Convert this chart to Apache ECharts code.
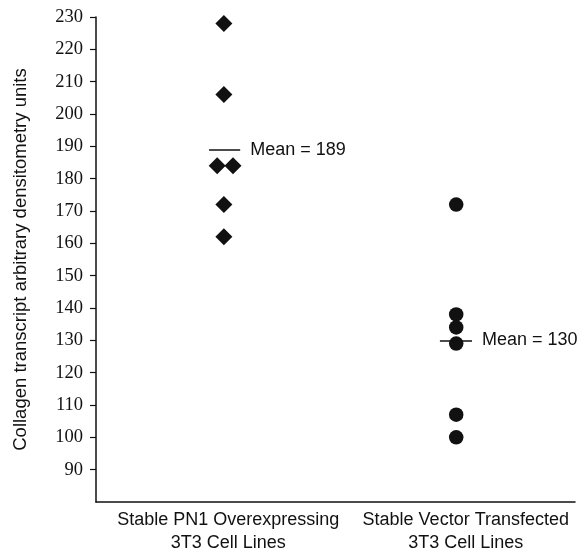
<!DOCTYPE html>
<html>
<head>
<meta charset="utf-8">
<script src="https://cdn.jsdelivr.net/npm/echarts@6/dist/echarts.min.js"></script>
<style>
  html, body { margin: 0; padding: 0; background: #fff; }
  #chart { width: 585px; height: 555px; }
</style>
</head>
<body>
<div id="chart"></div>
<script>
// group labels and where they sit on the hidden 0-100 x scale
var groupLabels = ['Stable PN1 Overexpressing\n3T3 Cell Lines', 'Stable Vector Transfected\n3T3 Cell Lines'];
var labelPos = [27.6, 77.2];

// PN1 overexpressing lines (diamonds): [x, value]
var pn1Points = [[26.7, 228], [26.7, 206], [25.3, 184], [28.6, 184], [26.7, 172], [26.7, 162]];
// vector transfected lines (circles)
var vectorPoints = [[75.2, 172], [75.2, 138], [75.2, 134], [75.2, 129], [75.2, 107], [75.2, 100]];

// means and the x extent of each mean bar
var means = [189, 130];
var meanX = [[23.6, 30.1], [71.8, 78.5]];

var yTicks = [90, 100, 110, 120, 130, 140, 150, 160, 170, 180, 190, 200, 210, 220, 230];

var chart = echarts.init(document.getElementById('chart'));

function meanLine(i) {
    return {
        silent: true,
        symbol: 'none',
        lineStyle: { color: '#111', width: 1.5, type: 'solid', opacity: 1 },
        label: {
            show: true,
            position: 'end',
            distance: 10,
            formatter: 'Mean = ' + means[i],
            color: '#111',
            fontFamily: 'Liberation Sans',
            fontSize: 18
        },
        data: [[{ coord: [meanX[i][0], means[i]] }, { coord: [meanX[i][1], means[i]] }]]
    };
}

var option = {
    animation: false,
    grid: { left: 96, right: 10, top: 17, bottom: 50 },
    xAxis: {
        type: 'value',
        min: 0,
        max: 100,
        splitLine: { show: false },
        axisLine: { show: true, onZero: false, lineStyle: { color: '#111', width: 1.5 } },
        axisTick: { show: false },
        axisLabel: {
            customValues: labelPos,
            formatter: function (v) {
                var k = labelPos.indexOf(v);
                return k >= 0 ? groupLabels[k] : '';
            },
            color: '#111',
            fontFamily: 'Liberation Sans',
            fontSize: 18,
            lineHeight: 23,
            margin: 7
        }
    },
    yAxis: {
        type: 'value',
        min: 80,
        max: 230,
        interval: 10,
        name: 'Collagen transcript arbitrary densitometry units',
        nameLocation: 'middle',
        nameGap: 66,
        nameTextStyle: { color: '#111', fontFamily: 'Liberation Sans', fontSize: 18.5 },
        splitLine: { show: false },
        axisLine: { show: true, lineStyle: { color: '#111', width: 1.5 } },
        axisTick: {
            show: true,
            length: 6,
            customValues: yTicks,
            lineStyle: { color: '#111', width: 1.2 }
        },
        axisLabel: {
            customValues: yTicks,
            color: '#111',
            fontFamily: 'Liberation Serif',
            fontSize: 18.5,
            margin: 13
        }
    },
    series: [
        {
            name: 'PN1',
            type: 'scatter',
            symbol: 'diamond',
            symbolSize: 17,
            itemStyle: { color: '#111', opacity: 1 },
            data: pn1Points,
            markLine: meanLine(0)
        },
        {
            name: 'Vector',
            type: 'scatter',
            symbol: 'circle',
            symbolSize: 14.5,
            itemStyle: { color: '#111', opacity: 1 },
            data: vectorPoints,
            markLine: meanLine(1)
        }
    ]
};

chart.setOption(option);
</script>
</body>
</html>
